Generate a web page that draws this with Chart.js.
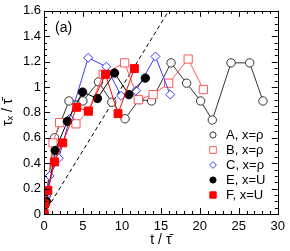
<!DOCTYPE html>
<html>
<head>
<meta charset="utf-8">
<script src="https://cdn.jsdelivr.net/npm/chart.js@4.4.0/dist/chart.umd.min.js"></script>
<style>
  html, body { margin: 0; padding: 0; background: #fff; }
  #wrap { width: 290px; height: 251px; position: relative; }
</style>
</head>
<body>
<div id="wrap"><canvas id="tauChart"></canvas></div>
<script>
// values (t / tau-bar, tau_x / tau-bar)
const tA = [0, 0.3, 1.36, 3.2, 5.0, 7.0, 8.7, 10.4, 12.2, 13.8, 16.3, 18.3, 20.1, 21.6, 24.0, 26.4, 28.1];
const yA = [0, 0.15, 0.6, 0.89, 0.89, 1.04, 0.88, 0.75, 0.9, 0.89, 1.19, 1.03, 0.89, 0.74, 1.19, 1.19, 0.89];

const tB = [0, 1.15, 2.0, 4.1, 5.7, 7.6, 10.35, 12.1, 14.0, 16.0, 18.5, 20.45];
const yB = [0, 0.56, 0.72, 0.71, 0.81, 1.1, 1.19, 0.9, 0.94, 1.03, 1.22, 0.98];

const tC = [0, 0.2, 0.72, 1.9, 3.3, 5.67, 8.0, 9.9, 11.8, 14.3, 16.2];
const yC = [0, 0.13, 0.3, 0.44, 0.75, 1.23, 1.16, 0.93, 0.97, 1.24, 0.94];

const tE = [0, 0.3, 1.44, 3.0, 4.95, 6.85, 9.05, 10.9, 13.0];
const yE = [0, 0.1, 0.5, 0.73, 0.96, 0.91, 1.11, 0.94, 1.07];

const tF = [0, 0.05, 0.5, 1.36, 2.4, 4.2, 5.7, 7.9, 9.5, 11.6];
const yF = [0.01, 0.08, 0.185, 0.41, 0.56, 0.84, 0.81, 1.1, 0.79, 1.145];

// reference line tau_x = t / 10
const tRef = [0, 16.1];
const yRef = [0, 1.61];

const seriesLabels = ['A, x=ρ', 'B, x=ρ', 'C, x=ρ', 'E, x=U', 'F, x=U'];
const xTicks = [0, 5, 10, 15, 20, 25, 30];
const yTicks = [0, 0.2, 0.4, 0.6, 0.8, 1, 1.2, 1.4, 1.6];

const FONT = "'Liberation Sans', Arial, Helvetica, sans-serif";

function pts(ts, ys) {
  return ts.map((t, i) => ({ x: t, y: ys[i] }));
}

// inward ticks on all four sides + frame + panel label + legend
const framePlugin = {
  id: 'framePlugin',
  afterDatasetsDraw(chart) {
    const ctx = chart.ctx;
    const a = chart.chartArea;
    const xs = chart.scales.x, ys = chart.scales.y;
    ctx.save();
    ctx.strokeStyle = '#000';
    ctx.lineWidth = 1;
    ctx.strokeRect(Math.round(a.left) + 0.5, Math.round(a.top) + 0.5,
                   Math.round(a.right - a.left), Math.round(a.bottom - a.top));
    ctx.beginPath();
    for (let v = 0; v <= 30; v += 1) {
      const px = Math.round(xs.getPixelForValue(v)) + 0.5;
      const len = v % 5 === 0 ? 6 : 3;
      ctx.moveTo(px, a.bottom); ctx.lineTo(px, a.bottom - len);
      ctx.moveTo(px, a.top); ctx.lineTo(px, a.top + len);
    }
    for (let k = 0; k <= 32; k++) {
      const v = k * 0.05;
      const py = Math.round(ys.getPixelForValue(v)) + 0.5;
      const len = k % 4 === 0 ? 6 : 3;
      ctx.moveTo(a.left, py); ctx.lineTo(a.left + len, py);
      ctx.moveTo(a.right, py); ctx.lineTo(a.right - len, py);
    }
    ctx.stroke();

    ctx.fillStyle = '#000';
    ctx.font = '14px ' + FONT;
    ctx.textAlign = 'left';
    ctx.textBaseline = 'middle';
    ctx.fillText('(a)', a.left + 11, a.top + 17);

    // legend (markers only)
    ctx.font = '13px ' + FONT;
    const lx = 213, ly0 = 135, step = 15;
    seriesLabels.forEach((lab, i) => {
      const ds = chart.data.datasets[i];
      const y = ly0 + i * step;
      ctx.fillStyle = ds.pointBackgroundColor;
      ctx.strokeStyle = ds.pointBorderColor;
      ctx.lineWidth = 1;
      Chart.helpers.drawPoint(ctx, { pointStyle: ds.pointStyle, radius: ds.pointRadius - 1.1, borderWidth: 1 }, lx, y);
      ctx.fillStyle = '#000';
      ctx.fillText(lab, 226, y + 0.5);
    });
    ctx.restore();
  }
};

function series(label, data, color, fill, style, radius, order) {
  return {
    label: label,
    data: data,
    borderColor: color,
    borderWidth: 1,
    pointStyle: style,
    pointRadius: radius,
    pointHoverRadius: radius,
    pointBorderColor: color,
    pointBackgroundColor: fill,
    pointBorderWidth: 1,
    showLine: true,
    fill: false,
    tension: 0,
    order: order
  };
}

new Chart(document.getElementById('tauChart'), {
  type: 'scatter',
  data: {
    datasets: [
      series(seriesLabels[0], pts(tA, yA), '#333333', '#ffffff', 'circle', 4.2, 5),
      series(seriesLabels[1], pts(tB, yB), '#ff5a5a', '#ffffff', 'rect', 5.8, 4),
      series(seriesLabels[2], pts(tC, yC), '#3a3aff', '#ffffff', 'rectRot', 4.5, 3),
      series(seriesLabels[3], pts(tE, yE), '#000000', '#000000', 'circle', 4.2, 2),
      series(seriesLabels[4], pts(tF, yF), '#ff0000', '#ff0000', 'rect', 5.6, 1),
      {
        label: 'ref',
        data: pts(tRef, yRef),
        borderColor: '#000',
        borderWidth: 1,
        borderDash: [4, 3],
        pointRadius: 0,
        showLine: true,
        order: 6
      }
    ]
  },
  options: {
    responsive: true,
    maintainAspectRatio: false,
    animation: false,
    layout: { padding: { top: 6, right: 8, left: 0, bottom: 0 } },
    plugins: {
      legend: { display: false },
      tooltip: { enabled: false }
    },
    scales: {
      x: {
        type: 'linear',
        min: 0, max: 30,
        afterBuildTicks: s => { s.ticks = xTicks.map(v => ({ value: v })); },
        afterFit: s => { s.height = 37; },
        grid: { display: false, drawTicks: false },
        border: { display: false },
        ticks: { color: '#000', font: { family: FONT, size: 13 }, padding: 5, maxRotation: 0,
                 callback: v => String(+Number(v).toFixed(2)) },
        title: {
          display: true, text: 't / τ̄', color: '#000',
          font: { family: FONT, size: 14 }, padding: { top: 0, bottom: 2 }
        }
      },
      y: {
        type: 'linear',
        min: 0, max: 1.6,
        afterBuildTicks: s => { s.ticks = yTicks.map(v => ({ value: v })); },
        afterFit: s => { s.width = 44; },
        grid: { display: false, drawTicks: false },
        border: { display: false },
        ticks: { color: '#000', font: { family: FONT, size: 13 }, padding: 3,
                 callback: v => String(+Number(v).toFixed(2)) },
        title: {
          display: true, text: 'τₓ / τ̄', color: '#000',
          font: { family: FONT, size: 14 }, padding: { top: 0, bottom: 3 }
        }
      }
    }
  },
  plugins: [framePlugin]
});
</script>
</body>
</html>
